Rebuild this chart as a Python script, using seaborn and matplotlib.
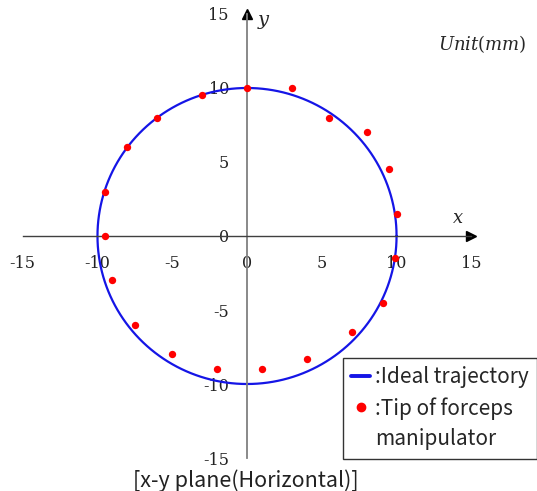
import numpy as np
import pandas as pd
import matplotlib.pyplot as plt
import seaborn as sns
from matplotlib.lines import Line2D

# Ideal trajectory: circle of radius 10 mm
radius = 10
# Measured tip positions of the forceps manipulator (mm)
tip_x = [0, 3, 5.5, 8, 9.5, 10, 9.9, 9.1, 7, 4, 1,
         -2, -5, -7.5, -9, -9.5, -9.5, -8, -6, -3]
tip_y = [10, 10, 8, 7, 4.5, 1.5, -1.5, -4.5, -6.5, -8.3, -9,
         -9, -8, -6, -3, 0, 3, 6, 8, 9.5]
ticks = [-15, -10, -5, 0, 5, 10, 15]

sns.set_style("white")
plt.rcParams['axes.unicode_minus'] = False
plt.rcParams['mathtext.fontset'] = 'dejavuserif'

theta = np.linspace(0, 2 * np.pi, 361)
ideal = pd.DataFrame({'x': radius * np.cos(theta), 'y': radius * np.sin(theta)})
tips = pd.DataFrame({'x': tip_x, 'y': tip_y})

fig = plt.figure(figsize=(5.37, 4.91), dpi=100)
ax = fig.add_axes([0.0423, 0.0672, 0.8354, 0.9043])

sns.lineplot(data=ideal, x='x', y='y', sort=False, estimator=None,
             color='#1515e6', lw=1.6, ax=ax, legend=False)
sns.scatterplot(data=tips, x='x', y='y', color='#ff0000', s=28,
                linewidth=0, ax=ax, legend=False, zorder=3)

ax.set_xlim(-15, 15)
ax.set_ylim(-15, 15)
ax.set_xticks(ticks)
ax.set_yticks(ticks)
ax.set_xlabel('')
ax.set_ylabel('')

# axes through the origin
ax.spines['left'].set_position(('data', 0))
ax.spines['bottom'].set_position(('data', 0))
ax.spines['top'].set_visible(False)
ax.spines['right'].set_visible(False)
ax.spines['left'].set_color('#808080')
ax.spines['bottom'].set_color('#404040')
ax.spines['left'].set_linewidth(1.3)
ax.spines['bottom'].set_linewidth(1.0)
ax.tick_params(axis='x', direction='in', length=4, width=1, color='#404040',
               pad=14, labelsize=11.5)
ax.tick_params(axis='y', direction='out', length=4, width=1, color='#808080',
               pad=9, labelsize=11.5)
for lab in ax.get_xticklabels() + ax.get_yticklabels():
    lab.set_family('DejaVu Serif')
    lab.set_color('#222222')

# arrow heads
ax.plot(1, 0, '>', color='black', ms=7, transform=ax.get_yaxis_transform(), clip_on=False)
ax.plot(0, 1, '^', color='black', ms=7, transform=ax.get_xaxis_transform(), clip_on=False)

ax.text(14.1, 1.2, 'x', fontsize=13, style='italic', family='DejaVu Serif', ha='center', va='center')
ax.text(1.1, 14.6, 'y', fontsize=14, style='italic', family='DejaVu Serif', ha='center', va='center')

fig.text(482 / 537, 1 - 44 / 491, r'$Unit(mm)$', fontsize=13, ha='center', va='center')
fig.text(246 / 537, 1 - 481 / 491, '[x-y plane(Horizontal)]', fontsize=15.5,
         family=['Noto Sans CJK JP', 'DejaVu Sans'], ha='center', va='center', color='#222222')

handles = [Line2D([], [], color='#1515e6', lw=2.8),
           Line2D([], [], ls='none', marker='o', color='#ff0000', ms=6),
           Line2D([], [], ls='none')]
labels = [':Ideal trajectory', ':Tip of forceps', 'manipulator']
leg = ax.legend(handles, labels, loc='upper left', bbox_to_anchor=(343 / 537, 1 - 358 / 491),
                bbox_transform=fig.transFigure, borderaxespad=0, fancybox=False,
                frameon=True, edgecolor='black', handlelength=0.9, handletextpad=0.25,
                borderpad=0.4, labelspacing=0.42,
                prop={'family': ['Noto Sans CJK JP', 'DejaVu Sans'], 'size': 15})
leg.get_frame().set_linewidth(1.0)

fig.savefig('out.png', dpi=100)
